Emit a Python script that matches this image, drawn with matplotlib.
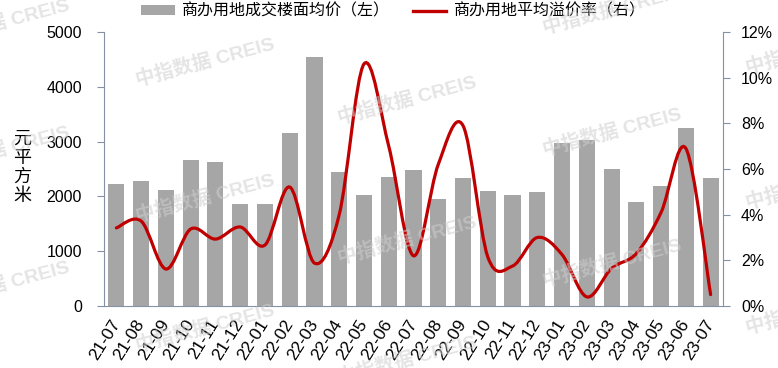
import numpy as np
import matplotlib
matplotlib.use("Agg")
from matplotlib import pyplot as plt
from matplotlib.path import Path
from matplotlib.patches import PathPatch
from matplotlib.lines import Line2D
from matplotlib.patches import Patch

plt.rcParams['font.family'] = ['Liberation Sans', 'Noto Sans CJK SC', 'DejaVu Sans']

months = ["21-07", "21-08", "21-09", "21-10", "21-11", "21-12", "22-01", "22-02",
          "22-03", "22-04", "22-05", "22-06", "22-07", "22-08", "22-09", "22-10",
          "22-11", "22-12", "23-01", "23-02", "23-03", "23-04", "23-05", "23-06", "23-07"]
price = [2230, 2280, 2110, 2660, 2620, 1860, 1860, 3150, 4540, 2440, 2020, 2350, 2480,
         1950, 2330, 2100, 2030, 2080, 2970, 3030, 2500, 1900, 2190, 3240, 2330]
premium = [3.42, 3.72, 1.62, 3.37, 2.93, 3.46, 2.67, 5.21, 1.88, 4.0, 10.6, 7.0, 2.2,
           6.2, 7.9, 2.15, 1.75, 3.0, 2.25, 0.4, 1.65, 2.3, 4.1, 6.9, 0.5]

label_bar = "商办用地成交楼面均价（左）"
label_line = "商办用地平均溢价率（右）"

bar_color = "#a6a6a6"
line_color = "#c00000"
spine_color = "#8591a5"

fig = plt.figure(figsize=(7.78, 3.68), dpi=100)
ax = fig.add_axes([104/778, 1-306/368, (723-104)/778, (306-32)/368])
ax2 = ax.twinx()

x = np.arange(len(months))
ax.bar(x, price, width=0.65, color=bar_color, zorder=2)
ax.set_xlim(-0.5, len(months)-0.5)
ax.set_ylim(0, 5000)
ax.set_yticks(range(0, 5001, 1000))

# smooth line like excel: bezier through the points
pts = np.column_stack([x, premium]).astype(float)
verts = [pts[0]]
codes = [Path.MOVETO]
n = len(pts)
for i in range(n-1):
    p_prev = pts[max(i-1, 0)]
    p0 = pts[i]
    p1 = pts[i+1]
    p_next = pts[min(i+2, n-1)]
    c1 = p0 + (p1 - p_prev)/6.0
    c2 = p1 - (p_next - p0)/6.0
    verts += [c1, c2, p1]
    codes += [Path.CURVE4]*3
ax2.add_patch(PathPatch(Path(verts, codes), facecolor="none", edgecolor=line_color,
                        lw=2.3, capstyle="round", zorder=3))
ax2.set_ylim(0, 12)
ax2.set_yticks(range(0, 13, 2))
ax2.set_yticklabels([f"{v}%" for v in range(0, 13, 2)])

for a in (ax, ax2):
    for s in a.spines.values():
        s.set_color(spine_color)
    a.spines["top"].set_visible(False)
ax.spines["right"].set_visible(False)
ax2.spines["left"].set_visible(False)
ax2.spines["bottom"].set_visible(False)

ax.tick_params(axis="y", length=5, color=spine_color, labelsize=11.5, pad=11)
ax2.tick_params(axis="y", length=5, color=spine_color, labelsize=11.5, pad=8)
ax.set_xticks(x)
ax.set_xticklabels(months, rotation=58, ha="right", va="center", rotation_mode="anchor")
ax.tick_params(axis="x", length=0, labelsize=12.5, pad=11)

fig.text(22/778, 1-168/368, "元\n平\n方\n米", ha="center", va="center",
         fontsize=13, linespacing=1.15)

handles = [Patch(facecolor=bar_color, edgecolor="none"),
           Line2D([], [], color=line_color, lw=2.4)]
fig.legend(handles, [label_bar, label_line], loc="center", bbox_to_anchor=(0.505, 1-11/368),
           ncol=2, frameon=False, fontsize=11.5, handlelength=2.1, handleheight=0.5,
           handletextpad=0.4, columnspacing=1.5, borderaxespad=0)

# watermark
marks = [(0, 23), (0, 150), (0, 285), (205, 62), (205, 198), (205, 328),
         (407, 100), (407, 240), (407, 360), (612, 10), (612, 132), (612, 263),
         (815, 50), (815, 185), (815, 310)]
for mx, my in marks:
    fig.text(mx/778, 1-my/368, "中指数据 CREIS", ha="center", va="center", rotation=15,
             fontsize=14, fontweight="bold", color="#cfcfcf", alpha=0.55, zorder=10)

fig.savefig("out.png", dpi=100)
